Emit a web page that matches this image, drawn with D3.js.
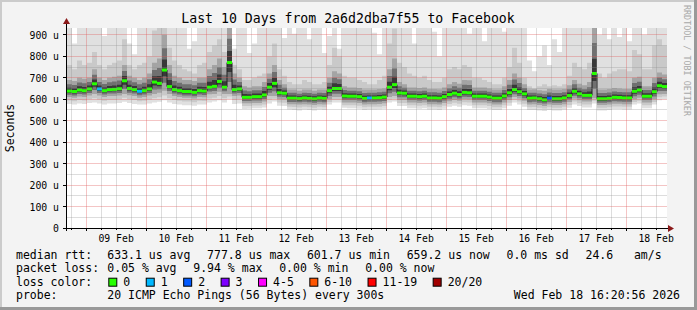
<!DOCTYPE html>
<html>
<head>
<meta charset="utf-8">
<script src="https://cdn.jsdelivr.net/npm/d3@7.9.0/dist/d3.min.js"></script>
<style>
  body { margin: 0; background: #f3f3f3; }
  svg { display: block; }
  text { font-family: "DejaVu Sans Mono", monospace; fill: #000; white-space: pre; }
</style>
</head>
<body>
<svg width="697" height="310"></svg>
<script>
// ---- data (2 h buckets, values in microseconds) ----
const startTime = new Date(2026, 1, 8, 16, 20, 56);
const endTime = new Date(2026, 1, 18, 16, 20, 56);
const bucketHours = 2;

const median = [638,636,643,640,648,672,648,640,645,646,
  649,686,650,645,637,640,648,680,674,736,
  659,645,640,636,636,632,640,638,656,660,
  683,656,771,645,648,609,609,612,612,620,
  656,674,630,628,605,605,603,606,604,602,
  606,604,640,650,650,615,614,614,612,604,
  606,606,607,610,656,668,629,628,614,614,
  612,614,606,606,605,612,622,628,622,632,
  630,614,614,614,610,605,605,615,630,645,
  635,625,605,606,602,597,605,602,602,606,
  617,637,625,618,618,720,602,602,604,609,
  608,606,606,637,643,614,614,635,663,659];

const pingMin = [578,575,580,578,582,585,580,576,580,580,
  582,588,582,578,575,576,580,585,588,595,
  585,578,575,572,572,570,576,575,585,590,
  595,585,600,578,580,555,556,558,558,562,
  580,590,570,568,552,550,548,552,550,548,
  552,550,575,585,585,560,558,558,556,550,
  552,552,553,556,585,590,568,568,558,558,
  556,558,552,552,550,556,565,570,565,572,
  570,558,558,558,555,550,550,558,570,585,
  575,565,550,550,548,545,550,548,548,552,
  560,575,568,562,562,580,548,548,550,554,
  554,552,552,575,580,558,558,575,595,600];

const pingLowQ = [610,607,613,611,617,625,617,611,615,615,
  617,625,619,615,607,611,617,625,630,640,
  625,615,611,607,607,603,611,609,623,625,
  635,625,625,615,617,581,581,583,583,590,
  615,615,600,599,577,577,575,577,575,573,
  577,575,600,610,610,585,585,585,583,575,
  577,577,578,581,610,615,597,597,585,585,
  583,585,577,577,575,583,591,597,593,600,
  599,585,585,585,581,575,575,585,597,610,
  603,593,575,577,573,569,575,573,573,577,
  587,603,595,589,589,605,573,573,575,579,
  579,577,577,600,607,585,585,600,623,625];

const pingHighQ = [690,685,700,695,700,740,700,690,700,705,
  710,760,710,700,690,700,720,770,790,900,
  760,710,700,690,690,685,700,700,740,760,
  790,750,950,720,700,660,655,660,660,680,
  720,760,690,670,645,645,640,645,645,640,
  645,645,700,730,720,660,655,655,652,645,
  645,645,648,650,740,790,680,670,655,655,
  652,655,648,648,646,655,670,680,672,690,
  688,655,655,655,650,645,645,660,690,720,
  700,670,645,646,642,640,648,645,645,648,
  665,690,672,665,680,950,645,645,648,652,
  650,648,648,700,705,660,660,700,725,715];

const pingP90 = [760,740,780,760,770,820,760,740,760,770,
  780,880,760,740,760,770,800,920,950,950,
  840,780,760,740,730,720,760,770,820,850,
  880,820,950,760,740,690,690,700,710,720,
  800,860,740,710,680,670,670,690,680,670,
  670,680,760,840,800,710,700,700,690,680,
  670,670,690,710,860,930,770,750,720,710,
  700,710,690,680,680,700,740,750,740,760,
  750,700,700,690,680,670,670,700,750,840,
  770,700,660,650,660,670,660,665,660,670,
  710,770,750,740,770,950,720,700,720,730,
  740,740,730,830,810,740,740,850,880,850];

const pingMax = [950,860,950,950,950,950,950,895,950,950,
  950,950,860,810,950,950,950,950,950,950,
  950,950,950,950,835,870,950,950,950,950,
  950,950,950,835,950,950,815,860,950,950,
  950,950,950,885,950,905,950,950,880,950,
  950,815,895,950,835,950,950,950,950,950,
  950,910,810,950,950,950,950,950,950,860,
  950,950,950,915,800,950,950,950,950,950,
  905,950,950,870,950,950,950,915,950,950,
  950,950,780,730,800,850,760,880,820,950,
  950,950,950,950,950,950,900,950,880,950,
  890,950,870,950,950,900,950,950,950,950];

// buckets where some pings were lost, and how many
const lossBuckets = [6, 14, 60, 96];
const lossCounts = [1, 1, 1, 2];

const lossLabels = ["0", "1", "2", "3", "4-5", "6-10", "11-19", "20/20"];
const lossColors = ["#26ff00", "#00b8ff", "#0059ff", "#7e00ff", "#ff00ff", "#ff5500", "#ff0000", "#a10000"];

const rttLegend = ["633.1 us avg", "777.8 us max", "601.7 us min", "659.2 us now", "0.0 ms sd", "24.6   am/s"];
const lossLegend = ["0.05 % avg", "9.94 % max", "0.00 % min", "0.00 % now"];
const probeText = "20 ICMP Echo Pings (56 Bytes) every 300s";
const stampText = "Wed Feb 18 16:20:56 2026";

// ---- setup ----
const svg = d3.select("svg");
const W = 697, H = 310;
const plotL = 67, plotR = 667, plotT = 28, plotB = 228;

const x = d3.scaleTime().domain([startTime, endTime]).range([plotL, plotR]);
const y = d3.scaleLinear().domain([0, 932]).range([plotB, plotT]);

const n = median.length;
const times = d3.range(n + 1).map(i => i < n ? d3.timeHour.offset(startTime, i * bucketHours) : endTime);
const at = (arr, i) => arr[Math.min(i, n - 1)];
const px = v => Math.floor(v) + 0.5;

// frame
svg.append("rect").attr("width", W).attr("height", H).attr("fill", "#f3f3f3");
svg.append("rect").attr("x", 0).attr("y", 0).attr("width", W).attr("height", 2).attr("fill", "#cbcbcb");
svg.append("rect").attr("x", 0).attr("y", 0).attr("width", 2).attr("height", H).attr("fill", "#cbcbcb");
svg.append("rect").attr("x", W - 3).attr("y", 0).attr("width", 3).attr("height", H).attr("fill", "#999");
svg.append("rect").attr("x", 0).attr("y", H - 3).attr("width", W).attr("height", 3).attr("fill", "#999");

svg.append("rect").attr("x", plotL).attr("y", plotT).attr("width", plotR - plotL).attr("height", plotB - plotT).attr("fill", "#fff");

svg.append("clipPath").attr("id", "plot")
  .append("rect").attr("x", plotL).attr("y", plotT).attr("width", plotR - plotL).attr("height", plotB - plotT);

const g = svg.append("g").attr("clip-path", "url(#plot)");

function band(lo, hi, color) {
  const area = d3.area()
    .curve(d3.curveStepAfter)
    .x(i => x(times[i]))
    .y0(i => y(lo(i)))
    .y1(i => y(hi(i)));
  g.append("path").attr("d", area(d3.range(n + 1))).attr("fill", color);
}

// smoke
band(i => at(pingMin, i), i => at(pingMax, i), "#e0e0e0");
band(i => (at(pingMin, i) + at(pingLowQ, i)) / 2, i => at(pingP90, i), "#c9c9c9");
[[1, "#a4a4a4"], [0.62, "#707070"], [0.3, "#383838"]].forEach(([f, c]) => {
  band(i => at(median, i) - (at(median, i) - at(pingLowQ, i)) * f,
       i => at(median, i) + (at(pingHighQ, i) - at(median, i)) * f, c);
});

// grid (drawn over the smoke): thin see-through lines standing in for rrdtool's dots
const minorHours = d3.timeHour.every(6).range(startTime, endTime).filter(d => d.getHours() !== 0);
const days = d3.timeDay.range(startTime, endTime);
const yMinor = d3.range(50, 932, 100);
const yMajor = y.ticks(10);

function gridLines(vs, hs, color, op) {
  const gg = svg.append("g");
  vs.forEach(t => gg.append("rect").attr("x", Math.floor(x(t))).attr("y", plotT).attr("width", 1).attr("height", plotB - plotT)
    .attr("fill", color).attr("fill-opacity", op));
  hs.forEach(v => gg.append("rect").attr("x", plotL).attr("y", Math.floor(y(v))).attr("width", plotR - plotL).attr("height", 1)
    .attr("fill", color).attr("fill-opacity", op));
}
gridLines(minorHours, yMinor, "#909090", 0.3);
gridLines(days, yMajor.filter(v => v > 0), "#e05858", 0.35);

// median: dark step line, then coloured bars by loss
const medLine = d3.line().curve(d3.curveStepAfter)
  .x(i => x(times[i]))
  .y(i => y(at(median, i)));
g.append("path").attr("d", medLine(d3.range(n + 1)))
  .attr("fill", "none").attr("stroke", "#202020").attr("stroke-width", 1);

g.selectAll("rect.med").data(d3.range(n)).join("rect")
  .attr("class", "med")
  .attr("x", i => x(times[i]))
  .attr("width", i => x(times[i + 1]) - x(times[i]))
  .attr("y", i => y(median[i]) - 1.5)
  .attr("height", 3)
  .attr("fill", i => {
    const k = lossBuckets.indexOf(i);
    return k < 0 ? lossColors[0] : lossColors[lossCounts[k]];
  });

// axes
const axisColor = "#000";
svg.append("line").attr("x1", plotL - 0.5).attr("x2", plotL - 0.5).attr("y1", plotB + 3).attr("y2", 22)
  .attr("stroke", axisColor);
svg.append("line").attr("x1", plotL - 4).attr("x2", plotR + 3).attr("y1", plotB + 0.5).attr("y2", plotB + 0.5)
  .attr("stroke", axisColor);
svg.append("path").attr("d", `M${plotL - 4},24 L${plotL - 0.5},18 L${plotL + 3},24 Z`).attr("fill", "#8b1a1a");
svg.append("path").attr("d", `M${plotR + 1},${plotB - 3} L${plotR + 7},${plotB + 0.5} L${plotR + 1},${plotB + 4} Z`).attr("fill", "#8b1a1a");

yMajor.forEach(v => {
  svg.append("line").attr("x1", plotL - 4).attr("x2", plotL).attr("y1", px(y(v))).attr("y2", px(y(v)))
    .attr("stroke", axisColor);
  svg.append("text").attr("x", 59).attr("y", y(v) + 0.5)
    .attr("text-anchor", "end").attr("dominant-baseline", "central")
    .style("font-size", "9.8px")
    .text(v === 0 ? "0" : `${v} u`);
});
minorHours.forEach(d => {
  svg.append("line").attr("x1", px(x(d))).attr("x2", px(x(d))).attr("y1", plotB).attr("y2", plotB + 2)
    .attr("stroke", axisColor);
});
days.forEach(d => {
  svg.append("line").attr("x1", px(x(d))).attr("x2", px(x(d))).attr("y1", plotB).attr("y2", plotB + 3)
    .attr("stroke", axisColor);
  svg.append("text").attr("x", x(d3.timeHour.offset(d, 12))).attr("y", 238.5)
    .attr("text-anchor", "middle").attr("dominant-baseline", "central")
    .style("font-size", "9.8px")
    .text(d3.timeFormat("%d %b")(d));
});

// title and side labels
svg.append("text").attr("x", 348).attr("y", 23).attr("text-anchor", "middle")
  .style("font-size", "13.2px").text("Last 10 Days from 2a6d2dba7f55 to Facebook");
svg.append("text").attr("transform", `translate(14,${(plotT + plotB) / 2}) rotate(-90)`)
  .attr("text-anchor", "middle").style("font-size", "11.5px").text("Seconds");
svg.append("text").attr("transform", "translate(684,5) rotate(90)")
  .attr("text-anchor", "start").style("font-size", "8.4px").style("fill", "#a8a8a8")
  .text("RRDTOOL / TOBI OETIKER");

// legend
const lf = "11.5px";
const rowY = [255, 268.3, 281.7, 295];
const col = 107.3, gap = 16.7;
function label(txt, xx, yy) {
  return svg.append("text").attr("x", xx).attr("y", yy).attr("dominant-baseline", "central")
    .style("font-size", lf).text(txt);
}
function row(items, yy) {
  let cx = col;
  items.forEach(t => {
    const el = label(t, cx, yy);
    cx += el.node().getComputedTextLength() + gap;
  });
}
label("median rtt:", 16, rowY[0]);
row(rttLegend, rowY[0]);
label("packet loss:", 16, rowY[1]);
row(lossLegend, rowY[1]);
label("loss color:", 16, rowY[2]);
let bx = 108.3;
lossLabels.forEach((t, k) => {
  svg.append("rect").attr("x", bx + 0.5).attr("y", rowY[2] - 3.5).attr("width", 8).attr("height", 8)
    .attr("fill", lossColors[k]).attr("stroke", "#000");
  const el = label(t, bx + 15, rowY[2]);
  bx += 15 + el.node().getComputedTextLength() + 15.5;
});
label("probe:", 16, rowY[3]);
label(probeText, col, rowY[3]);
label(stampText, 680, rowY[3]).attr("text-anchor", "end");
</script>
</body>
</html>
